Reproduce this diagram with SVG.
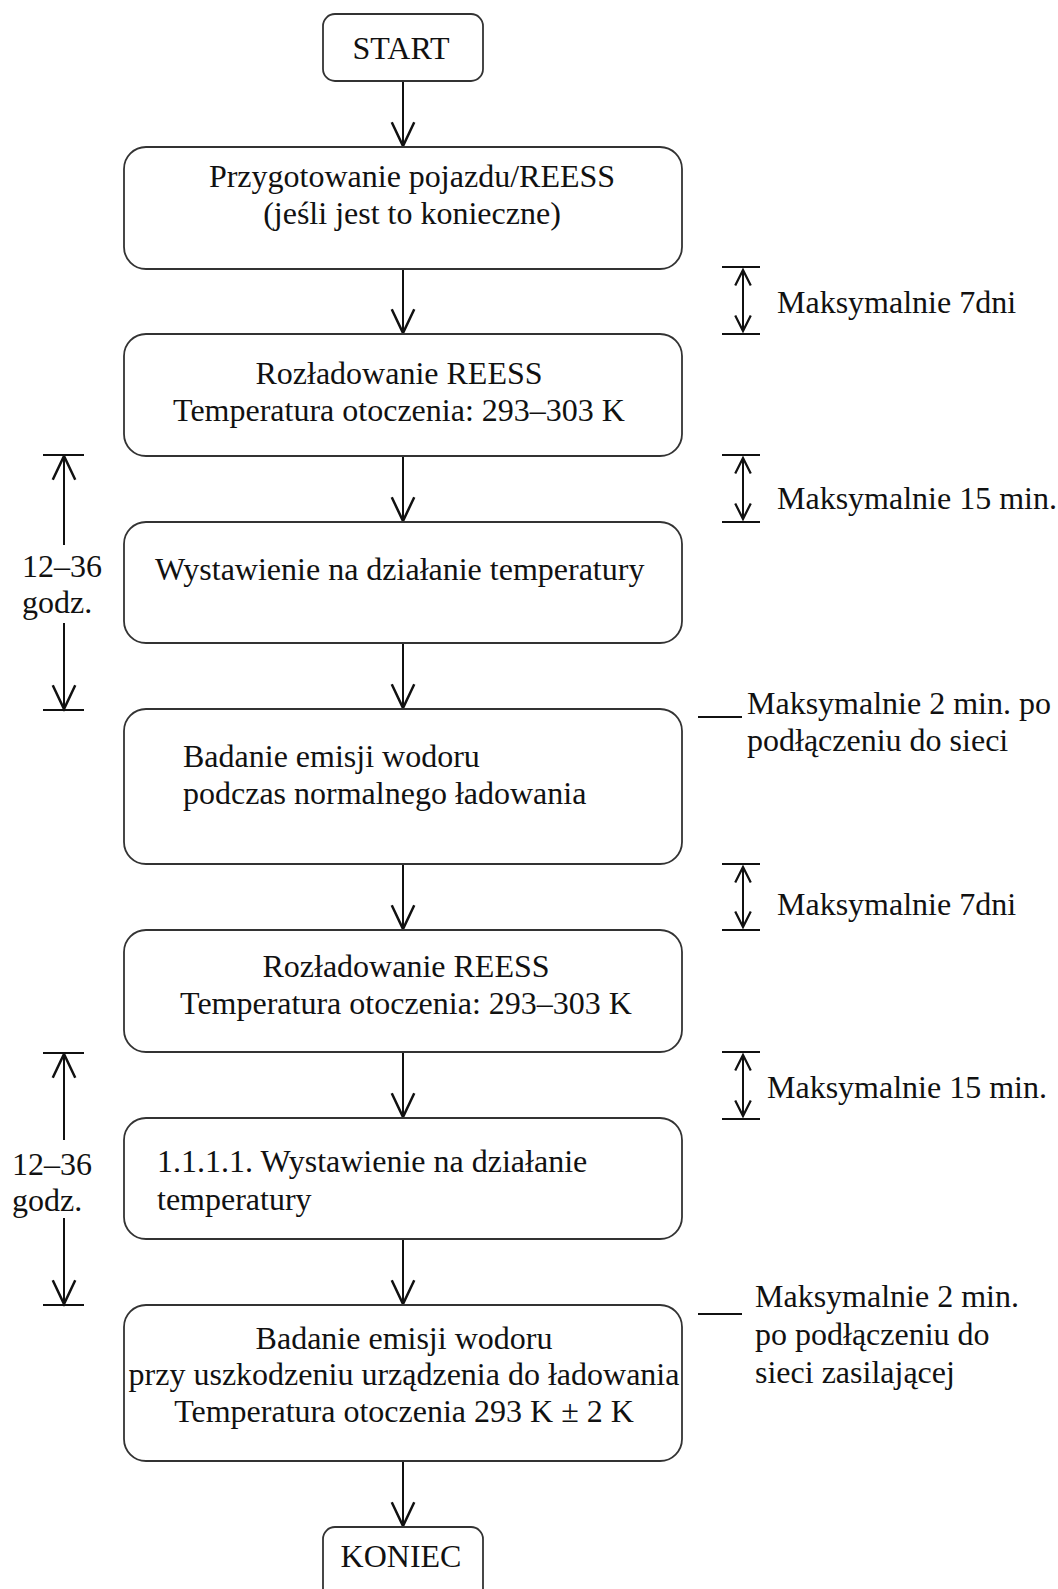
<svg xmlns="http://www.w3.org/2000/svg" width="1058" height="1589" viewBox="0 0 1058 1589">
<defs>
<marker id="ah" markerUnits="userSpaceOnUse" markerWidth="30" markerHeight="30" viewBox="-22 -12 24 24" refX="0" refY="0" orient="auto-start-reverse">
<path d="M-19,-9 L0,0 L-19,9" fill="none" stroke="#111" stroke-width="2"/>
</marker>
<marker id="ahs" markerUnits="userSpaceOnUse" markerWidth="20" markerHeight="20" viewBox="-16 -9 18 18" refX="0" refY="0" orient="auto-start-reverse">
<path d="M-14,-7 L0,0 L-14,7" fill="none" stroke="#111" stroke-width="2"/>
</marker>
</defs>
<style>
.box{fill:#fff;stroke:#333;stroke-width:1.8}
.t{font-family:"Liberation Serif","Times New Roman",serif;font-size:32px;fill:#111}
.c{text-anchor:middle}
.ln{stroke:#111;stroke-width:2;fill:none}
.tk{stroke:#111;stroke-width:2}
</style>
<rect width="1058" height="1589" fill="#fff"/>

<g id="connectors">
<line class="ln" x1="403" y1="81" x2="403" y2="146" marker-end="url(#ah)"/>
<line class="ln" x1="403" y1="269" x2="403" y2="333" marker-end="url(#ah)"/>
<line class="ln" x1="403" y1="456" x2="403" y2="521" marker-end="url(#ah)"/>
<line class="ln" x1="403" y1="643" x2="403" y2="708" marker-end="url(#ah)"/>
<line class="ln" x1="403" y1="864" x2="403" y2="929" marker-end="url(#ah)"/>
<line class="ln" x1="403" y1="1052" x2="403" y2="1117" marker-end="url(#ah)"/>
<line class="ln" x1="403" y1="1239" x2="403" y2="1304" marker-end="url(#ah)"/>
<line class="ln" x1="403" y1="1461" x2="403" y2="1526" marker-end="url(#ah)"/>
</g>

<g id="start">
<rect class="box" x="323" y="14" width="160" height="67" rx="12"/>
<text class="t c" x="401" y="59">START</text>
</g>
<g id="n1">
<rect class="box" x="124" y="147" width="558" height="122" rx="22"/>
<text class="t c" x="412" y="187">Przygotowanie pojazdu/REESS</text>
<text class="t c" x="412" y="224">(jeśli jest to konieczne)</text>
</g>
<g id="n2">
<rect class="box" x="124" y="334" width="558" height="122" rx="22"/>
<text class="t c" x="399" y="384">Rozładowanie REESS</text>
<text class="t c" x="399" y="421">Temperatura otoczenia: 293–303 K</text>
</g>
<g id="n3">
<rect class="box" x="124" y="522" width="558" height="121" rx="22"/>
<text class="t" x="155" y="580">Wystawienie na działanie temperatury</text>
</g>
<g id="n4">
<rect class="box" x="124" y="709" width="558" height="155" rx="22"/>
<text class="t" x="183" y="767">Badanie emisji wodoru</text>
<text class="t" x="183" y="804">podczas normalnego ładowania</text>
</g>
<g id="n5">
<rect class="box" x="124" y="930" width="558" height="122" rx="22"/>
<text class="t c" x="406" y="977">Rozładowanie REESS</text>
<text class="t c" x="406" y="1014">Temperatura otoczenia: 293–303 K</text>
</g>
<g id="n6">
<rect class="box" x="124" y="1118" width="558" height="121" rx="22"/>
<text class="t" x="157" y="1172">1.1.1.1. Wystawienie na działanie</text>
<text class="t" x="157" y="1210">temperatury</text>
</g>
<g id="n7">
<rect class="box" x="124" y="1305" width="558" height="156" rx="22"/>
<text class="t c" x="404" y="1349">Badanie emisji wodoru</text>
<text class="t c" x="404" y="1385">przy uszkodzeniu urządzenia do ładowania</text>
<text class="t c" x="404" y="1422">Temperatura otoczenia 293 K ± 2 K</text>
</g>
<g id="end">
<rect class="box" x="323" y="1527" width="160" height="80" rx="12"/>
<text class="t c" x="401" y="1567">KONIEC</text>
</g>

<g id="right-annotations">
<line class="tk" x1="722" y1="267" x2="760" y2="267"/>
<line class="tk" x1="722" y1="334" x2="760" y2="334"/>
<line class="ln" x1="743" y1="270" x2="743" y2="331" marker-start="url(#ahs)" marker-end="url(#ahs)"/>
<text class="t" x="777" y="313">Maksymalnie 7dni</text>

<line class="tk" x1="722" y1="455" x2="760" y2="455"/>
<line class="tk" x1="722" y1="522" x2="760" y2="522"/>
<line class="ln" x1="743" y1="458" x2="743" y2="519" marker-start="url(#ahs)" marker-end="url(#ahs)"/>
<text class="t" x="777" y="509">Maksymalnie 15 min.</text>

<line class="tk" x1="698" y1="717" x2="742" y2="717"/>
<text class="t" x="747" y="714">Maksymalnie 2 min. po</text>
<text class="t" x="747" y="751">podłączeniu do sieci</text>

<line class="tk" x1="722" y1="864" x2="760" y2="864"/>
<line class="tk" x1="722" y1="930" x2="760" y2="930"/>
<line class="ln" x1="743" y1="867" x2="743" y2="927" marker-start="url(#ahs)" marker-end="url(#ahs)"/>
<text class="t" x="777" y="915">Maksymalnie 7dni</text>

<line class="tk" x1="722" y1="1052" x2="760" y2="1052"/>
<line class="tk" x1="722" y1="1119" x2="760" y2="1119"/>
<line class="ln" x1="743" y1="1055" x2="743" y2="1116" marker-start="url(#ahs)" marker-end="url(#ahs)"/>
<text class="t" x="767" y="1098">Maksymalnie 15 min.</text>

<line class="tk" x1="698" y1="1314" x2="742" y2="1314"/>
<text class="t" x="755" y="1307">Maksymalnie 2 min.</text>
<text class="t" x="755" y="1345">po podłączeniu do</text>
<text class="t" x="755" y="1383">sieci zasilającej</text>
</g>

<g id="left-annotations">
<line class="tk" x1="43" y1="455" x2="84" y2="455"/>
<line class="tk" x1="43" y1="710" x2="84" y2="710"/>
<line class="ln" x1="64" y1="545" x2="64" y2="456" marker-end="url(#ah)"/>
<line class="ln" x1="64" y1="623" x2="64" y2="709" marker-end="url(#ah)"/>
<text class="t" x="22" y="577">12–36</text>
<text class="t" x="22" y="613">godz.</text>

<line class="tk" x1="43" y1="1053" x2="84" y2="1053"/>
<line class="tk" x1="43" y1="1305" x2="84" y2="1305"/>
<line class="ln" x1="64" y1="1140" x2="64" y2="1054" marker-end="url(#ah)"/>
<line class="ln" x1="64" y1="1218" x2="64" y2="1304" marker-end="url(#ah)"/>
<text class="t" x="12" y="1175">12–36</text>
<text class="t" x="12" y="1211">godz.</text>
</g>
</svg>
